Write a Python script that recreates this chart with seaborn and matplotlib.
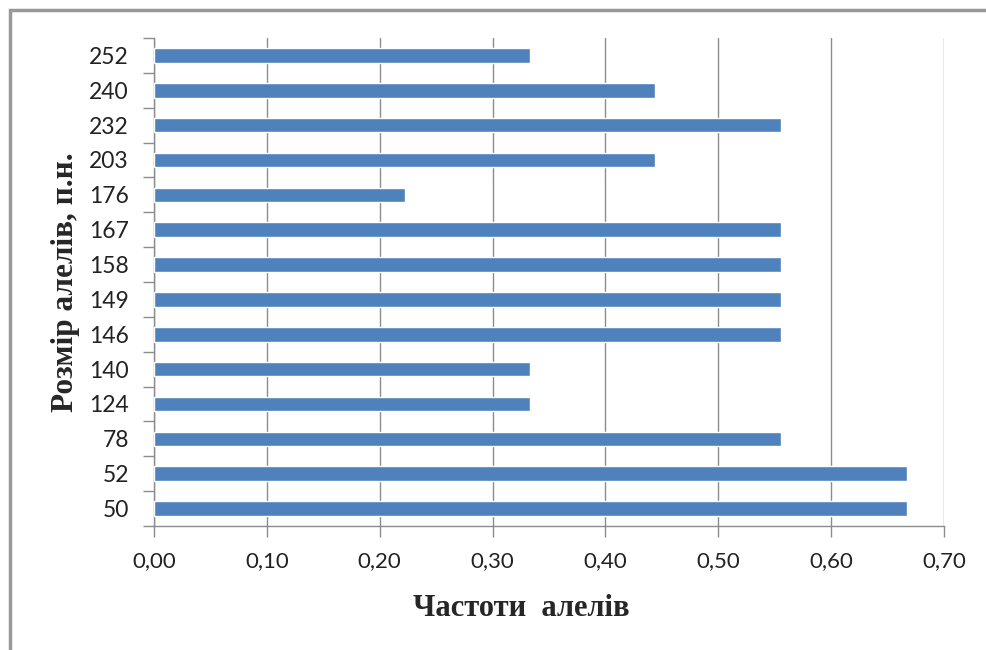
import numpy as np
import pandas as pd
import matplotlib
matplotlib.use("Agg")
import matplotlib.pyplot as plt
import seaborn as sns
from matplotlib.ticker import FuncFormatter, FixedLocator
from matplotlib.patches import Rectangle

# allele sizes (bottom to top) and their frequencies
sizes = ["50", "52", "78", "124", "140", "146", "149", "158", "167", "176", "203", "232", "240", "252"]
freqs = [0.667, 0.667, 0.556, 0.333, 0.333, 0.556, 0.556, 0.556, 0.556, 0.222, 0.444, 0.556, 0.444, 0.333]

df = pd.DataFrame({"size": sizes, "freq": freqs})

sns.set_style("white")
plt.rcParams["font.family"] = ["Lato", "DejaVu Sans"]

fig = plt.figure(figsize=(9.87, 6.5), dpi=100)
ax = fig.add_axes([154 / 987, 1 - 526 / 650, (944 - 154) / 987, (526 - 38) / 650])

sns.barplot(data=df, x="freq", y="size", order=sizes[::-1], color="#4F81BD",
            saturation=1, width=0.42, orient="h", ax=ax, zorder=3)

ax.set_xlim(0, 0.70)
ax.set_ylim(len(sizes) - 0.5, -0.5)
ax.set_xticks(np.arange(0, 0.71, 0.1))
ax.xaxis.set_major_formatter(FuncFormatter(lambda v, p: f"{v:.2f}".replace(".", ",")))
ax.grid(axis="x", color="#8c8c8c", linewidth=1, zorder=0)

# Excel style: tick marks between categories
ax.yaxis.set_minor_locator(FixedLocator(np.arange(-0.5, len(sizes), 1)))
ax.tick_params(axis="y", which="major", length=0, pad=18, labelsize=16.5, labelcolor="#222222")
ax.tick_params(axis="y", which="minor", length=8, width=1, color="#8c8c8c", left=True)
ax.tick_params(axis="x", which="major", length=8, width=1, color="#8c8c8c", bottom=True,
               labelsize=16, labelcolor="#222222", pad=10)

for s in ["top", "right"]:
    ax.spines[s].set_visible(False)
for s in ["left", "bottom"]:
    ax.spines[s].set_color("#8c8c8c")
    ax.spines[s].set_linewidth(1)

ax.set_xlabel("Частоти  алелів", fontsize=22, fontweight="bold",
              family=["Liberation Serif"])
ax.set_ylabel("Розмір алелів, п.н.", fontsize=22.5, fontweight="bold",
              family=["Liberation Serif"])
ax.xaxis.set_label_coords((521 - 154) / (944 - 154), -(608 - 526) / (526 - 38), transform=ax.transAxes)
ax.xaxis.label.set_va("center")
ax.yaxis.set_label_coords(-(154 - 66) / (944 - 154), (526 - 282) / (526 - 38), transform=ax.transAxes)
ax.yaxis.label.set_va("center")

# outer chart frame
fig.patches.append(Rectangle((10 / 987, -0.05), 1.1, 1 - 10 / 650 + 0.05,
                             transform=fig.transFigure, fill=False,
                             edgecolor="#999999", linewidth=2.5))

fig.savefig("out.png", dpi=100)
